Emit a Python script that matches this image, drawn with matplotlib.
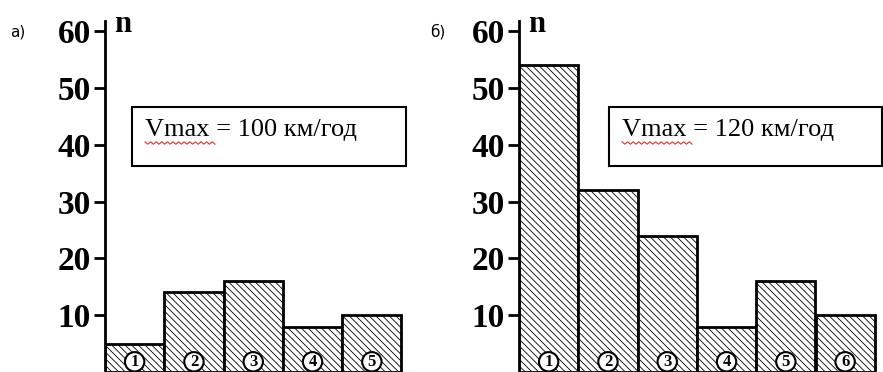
import numpy as np
import matplotlib.pyplot as plt
from matplotlib.patches import Rectangle

plt.rcParams['hatch.linewidth'] = 0.6

# counts per speed interval
counts_a = [5, 14, 16, 8, 10]
counts_b = [54, 32, 24, 8, 16, 10]
yticks = [10, 20, 30, 40, 50, 60]
vmax_a = "Vmax = 100 км/год"
vmax_b = "Vmax = 120 км/год"

W, H = 883, 372
fig = plt.figure(figsize=(W / 100, H / 100), dpi=100)


def px(x0, y0, w, h):
    # pixel box (top-left origin) -> figure fraction
    return [x0 / W, 1 - (y0 + h) / H, w / W, h / H]


def panel(x_axis, x_right, counts, tag, tag_x, vmax, box):
    bar_px = 59.3
    ax = fig.add_axes(px(x_axis, 0, x_right - x_axis, H))
    ax.set_xlim(0, (x_right - x_axis) / bar_px)
    ax.set_ylim(0, 65.5)
    idx = np.arange(len(counts))
    ax.bar(idx, counts, width=1, align='edge', facecolor='white',
           edgecolor='black', linewidth=2.0, hatch='\\' * 5, zorder=2)
    for i in idx:
        ax.text(i + 0.5, 1.8, str(i + 1), ha='center', va='center',
                fontsize=12, fontweight='bold', family='Liberation Serif',
                bbox=dict(boxstyle='circle,pad=0.1', fc='white',
                          ec='black', lw=1.5), zorder=3)
    for s in ['top', 'right']:
        ax.spines[s].set_visible(False)
    ax.spines['left'].set_linewidth(2)
    ax.spines['left'].set_bounds(0, 61.8)
    ax.spines['left'].set_zorder(4)
    ax.spines['bottom'].set_linewidth(0.8)
    ax.spines['bottom'].set_color('#999999')
    ax.set_xticks([])
    ax.set_yticks(yticks)
    ax.tick_params(axis='y', direction='out', length=8, width=2, pad=2)
    for lab in ax.get_yticklabels():
        lab.set_family('Liberation Serif')
        lab.set_fontweight('bold')
        lab.set_fontsize(24)
    ax.text(0.15, 61.2, 'n', fontsize=22, fontweight='bold',
            family='Liberation Serif', ha='left', va='center')

    fig.text(tag_x / W, 1 - 32 / H, tag, fontsize=11, family='DejaVu Sans',
             ha='left', va='center')

    bx0, by0, bx1, by1 = box
    fig.patches.append(Rectangle(((bx0) / W, 1 - by1 / H), (bx1 - bx0) / W,
                                 (by1 - by0) / H, transform=fig.transFigure,
                                 fill=False, ec='black', lw=1.5))
    fig.text((bx0 + 13) / W, 1 - 130 / H, vmax, fontsize=19,
             family='Liberation Serif', ha='left', va='center')
    # spell-check squiggle under "Vmax"
    zx = np.linspace(bx0 + 13, bx0 + 83, 26)
    zy = 143 + np.where(np.arange(26) % 2 == 0, -1.2, 1.2)
    fig.lines.append(plt.Line2D(zx / W, 1 - zy / H, transform=fig.transFigure,
                                color='#e03030', lw=0.8))


panel(105, 420, counts_a, 'а)', 10, vmax_a, (132, 107, 406, 166))
panel(519, 883, counts_b, 'б)', 430, vmax_b, (609, 107, 882, 166))

fig.savefig('out.png', dpi=100)
